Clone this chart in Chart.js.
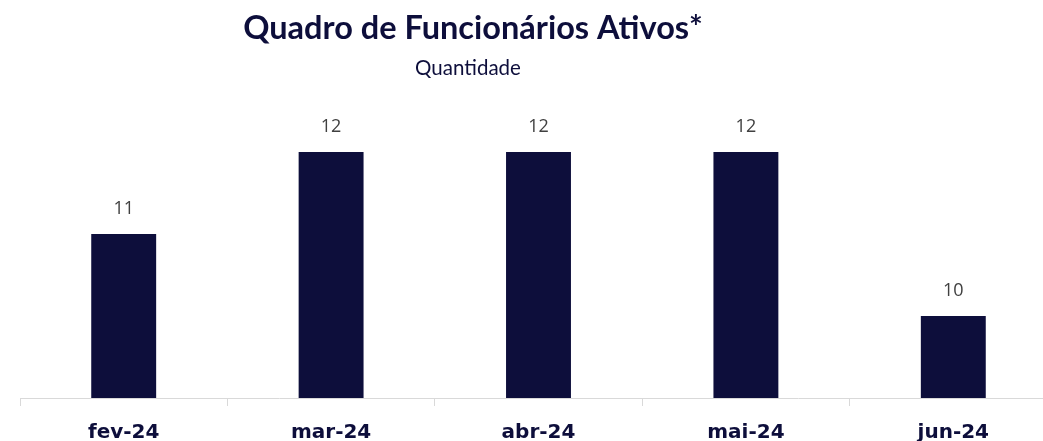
<!DOCTYPE html>
<html>
<head>
<meta charset="utf-8">
<script src="https://cdn.jsdelivr.net/npm/chart.js@4.4.1/dist/chart.umd.min.js"></script>
<style>
  html, body { margin: 0; padding: 0; background: #ffffff; overflow: hidden; width: 1043px; height: 441px; }
  #wrap { position: relative; width: 1060px; height: 441px; }
</style>
</head>
<body>
<div id="wrap"><canvas id="c"></canvas></div>
<script>
const titleText = "Quadro de Funcionários Ativos*";
const subtitleText = "Quantidade";
const categories = ["fev-24", "mar-24", "abr-24", "mai-24", "jun-24"];
const values = [11, 12, 12, 12, 10];

const NAVY = "#0d0e3b";

const headerPlugin = {
  id: "header",
  afterDraw(chart) {
    const ctx = chart.ctx;
    ctx.save();
    ctx.fillStyle = NAVY;
    ctx.textAlign = "center";
    ctx.textBaseline = "alphabetic";
    ctx.font = "bold 32.5px Lato, 'DejaVu Sans', sans-serif";
    ctx.fillText(titleText, 473, 39);
    ctx.font = "400 20.5px Lato, 'DejaVu Sans', sans-serif";
    ctx.fillText(subtitleText, 468, 75);
    ctx.restore();
  }
};

const valueLabels = {
  id: "valueLabels",
  afterDatasetsDraw(chart) {
    const ctx = chart.ctx;
    const meta = chart.getDatasetMeta(0);
    ctx.save();
    ctx.fillStyle = "#404040";
    ctx.font = "18px 'Open Sans', 'Liberation Sans', sans-serif";
    ctx.textAlign = "center";
    ctx.textBaseline = "middle";
    meta.data.forEach((bar, i) => {
      ctx.fillText(String(values[i]), bar.x, bar.y - 25);
    });
    ctx.restore();
  }
};

new Chart(document.getElementById("c"), {
  type: "bar",
  data: {
    labels: categories,
    datasets: [{
      data: values,
      backgroundColor: NAVY,
      borderWidth: 0,
      categoryPercentage: 1,
      barPercentage: 0.313
    }]
  },
  options: {
    responsive: true,
    maintainAspectRatio: false,
    animation: false,
    layout: { padding: { top: 70, left: 20, right: 3, bottom: 0 } },
    plugins: { legend: { display: false }, tooltip: { enabled: false }, title: { display: false } },
    scales: {
      y: { display: false, min: 9, max: 13 },
      x: {
        afterFit(scale) { scale.height = 43; },
        border: { display: true, color: "#d9d9d9", width: 1 },
        grid: { display: true, drawOnChartArea: false, offset: true, color: "#d9d9d9", tickLength: 8 },
        ticks: {
          color: NAVY,
          padding: 15,
          font: { family: "'DejaVu Sans', sans-serif", size: 20, weight: "bold" }
        }
      }
    }
  },
  plugins: [headerPlugin, valueLabels]
});
</script>
</body>
</html>
